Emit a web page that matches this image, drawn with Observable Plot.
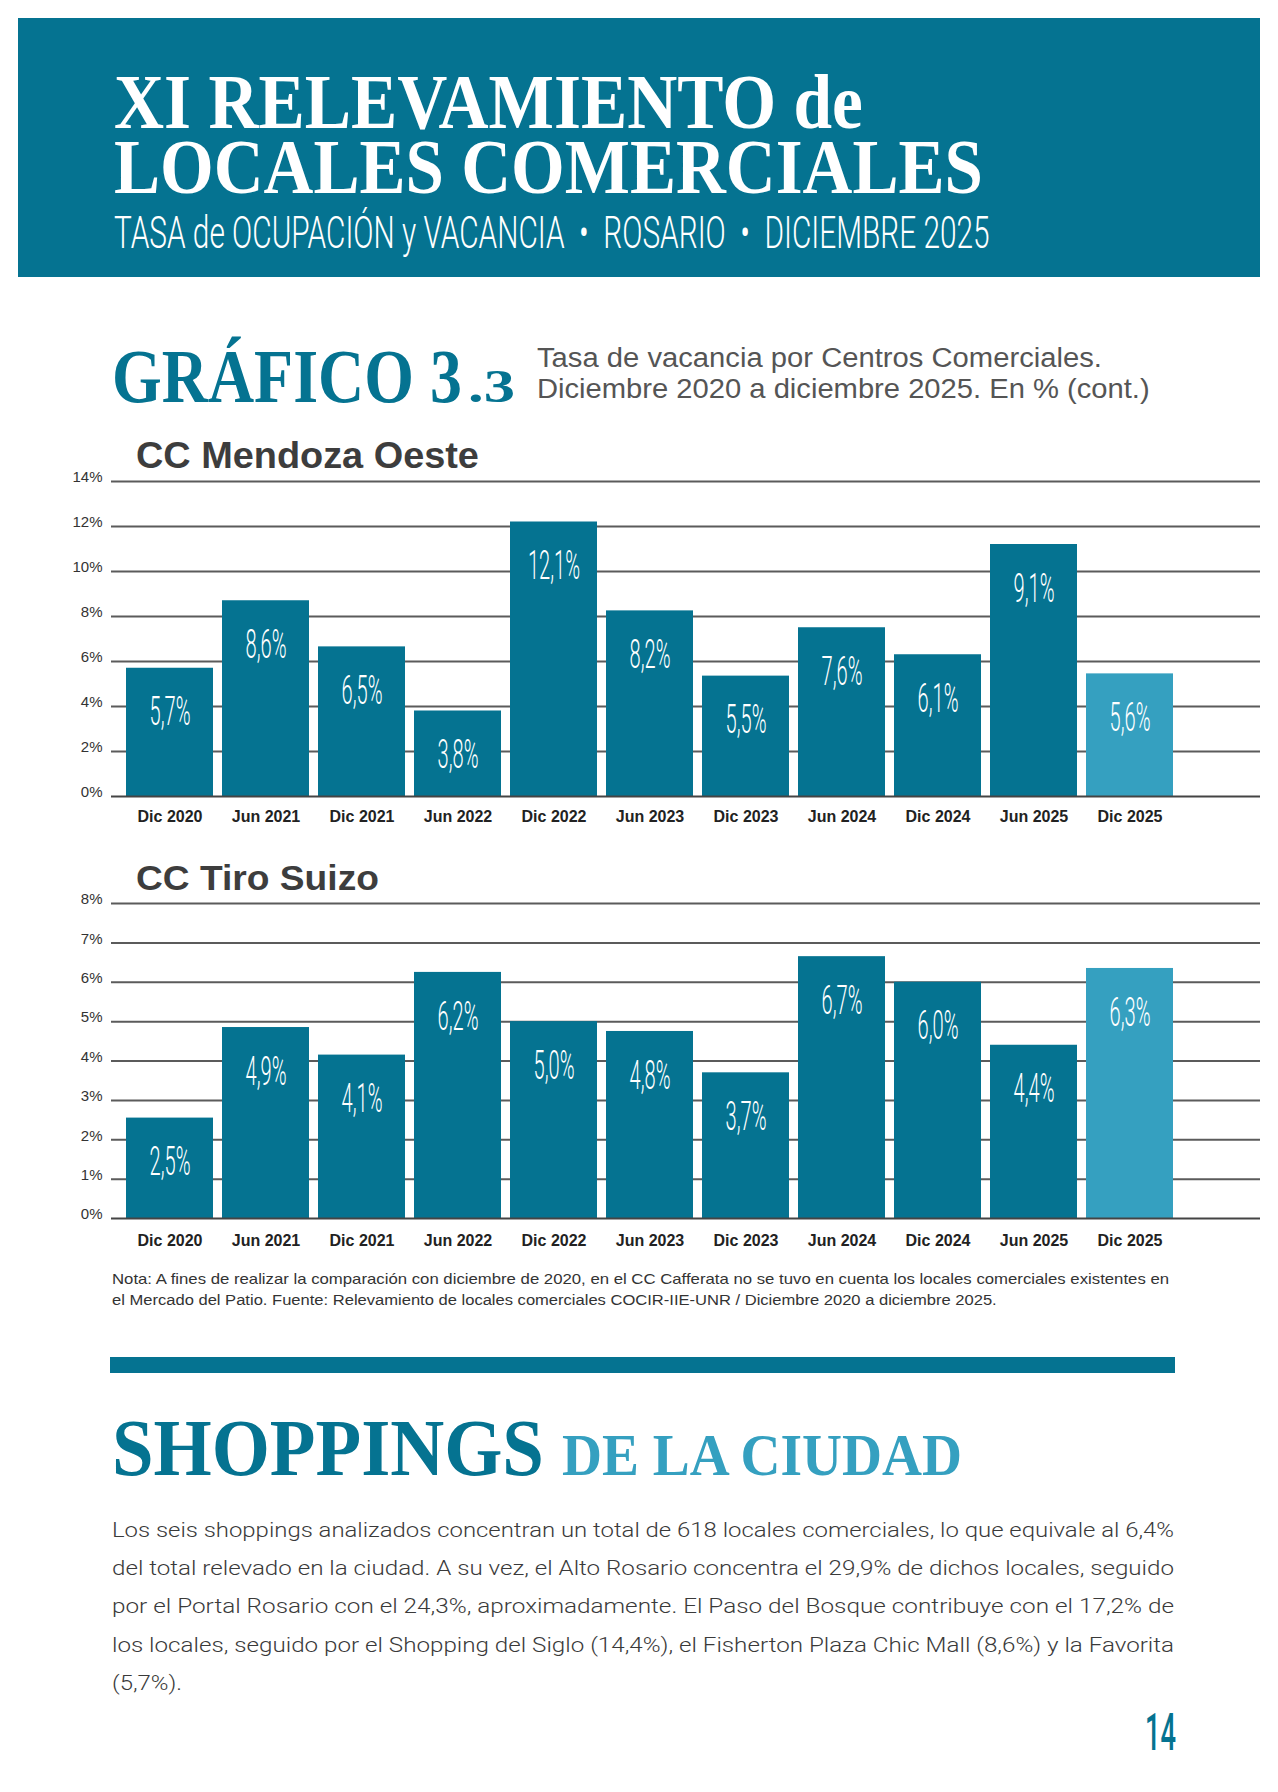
<!DOCTYPE html>
<html>
<head>
<meta charset="utf-8">
<script src="https://cdn.jsdelivr.net/npm/d3@7"></script>
<script src="https://cdn.jsdelivr.net/npm/@observablehq/plot@0.6"></script>
<style>
html, body { margin: 0; padding: 0; background: #fff; }
#page { position: relative; width: 1278px; height: 1792px; overflow: hidden; background: #fff; }
.chart { position: absolute; left: 0; width: 1278px; }
#overlay { position: absolute; left: 0; top: 0; z-index: 2; pointer-events: none; }
.serif { font-family: 'Liberation Serif', serif; font-weight: bold; }
.sans { font-family: 'Liberation Sans', Arial, sans-serif; }
.rob { font-family: Roboto, sans-serif; }
</style>
</head>
<body>
<div id="page">
  <div id="c1" class="chart" style="top:459px"></div>
  <div id="c2" class="chart" style="top:881px"></div>
  <svg id="overlay" width="1278" height="1792" viewBox="0 0 1278 1792" xmlns="http://www.w3.org/2000/svg">
    <rect x="18" y="18" width="1242" height="259" fill="#057391"/>
    <text id="title" class="serif" font-size="78" fill="#ffffff"><tspan x="0" y="128">XI RELEVAMIENTO de</tspan><tspan x="0" y="193">LOCALES COMERCIALES</tspan></text>
    <text class="rob" font-weight="300" font-size="45" fill="#ffffff" data-x="114" data-y="248" data-w="876" style="white-space:pre">TASA de OCUPACIÓN y VACANCIA  •  ROSARIO  •  DICIEMBRE 2025</text>

    <text class="serif" font-size="76" fill="#057391" data-x="112" data-y="402" data-w="350">GRÁFICO 3</text>
    <text class="serif" font-size="46" fill="#057391" data-x="468" data-y="402" data-w="47">.3</text>
    <text class="sans" font-size="28" fill="#555555" data-x="537" data-y="367" data-w="565">Tasa de vacancia por Centros Comerciales.</text>
    <text class="sans" font-size="28" fill="#555555" data-x="537" data-y="398" data-w="613">Diciembre 2020 a diciembre 2025. En % (cont.)</text>

    <text class="sans" font-weight="bold" font-size="36" fill="#3d3d3d" data-x="136" data-y="468" data-w="343">CC Mendoza Oeste</text>
    <text class="sans" font-weight="bold" font-size="36" fill="#3d3d3d" data-x="136" data-y="890" data-w="243">CC Tiro Suizo</text>

    <text class="sans" font-size="14.5" fill="#333333" data-x="112" data-y="1284" data-w="1058">Nota: A fines de realizar la comparación con diciembre de 2020, en el CC Cafferata no se tuvo en cuenta los locales comerciales existentes en</text>
    <text class="sans" font-size="14.5" fill="#333333" data-x="112" data-y="1305" data-w="886">el Mercado del Patio. Fuente: Relevamiento de locales comerciales COCIR-IIE-UNR / Diciembre 2020 a diciembre 2025.</text>

    <rect x="110" y="1357" width="1065" height="16" fill="#057391"/>

    <text class="serif" font-size="80" fill="#057391" data-x="112" data-y="1475" data-w="432">SHOPPINGS</text>
    <text class="serif" font-size="60" fill="#35a0c0" data-x="562" data-y="1475" data-w="400">DE LA CIUDAD</text>

    <g class="rob" font-weight="300" font-size="21" fill="#3a3a3a">
      <text x="112" y="1537" textLength="1062" lengthAdjust="spacingAndGlyphs">Los seis shoppings analizados concentran un total de 618 locales comerciales, lo que equivale al 6,4%</text>
      <text x="112" y="1575" textLength="1062" lengthAdjust="spacingAndGlyphs">del total relevado en la ciudad. A su vez, el Alto Rosario concentra el 29,9% de dichos locales, seguido</text>
      <text x="112" y="1613" textLength="1062" lengthAdjust="spacingAndGlyphs">por el Portal Rosario con el 24,3%, aproximadamente. El Paso del Bosque contribuye con el 17,2% de</text>
      <text x="112" y="1652" textLength="1062" lengthAdjust="spacingAndGlyphs">los locales, seguido por el Shopping del Siglo (14,4%), el Fisherton Plaza Chic Mall (8,6%) y la Favorita</text>
      <text x="112" y="1690" textLength="70" lengthAdjust="spacingAndGlyphs">(5,7%).</text>
    </g>

    <text class="rob" font-weight="500" font-size="52" fill="#057391" data-x="1145" data-y="1750" data-w="31">14</text>
  </svg>
</div>
<script>
// ---- Data ----
const periods = ["Dic 2020", "Jun 2021", "Dic 2021", "Jun 2022", "Dic 2022", "Jun 2023",
                 "Dic 2023", "Jun 2024", "Dic 2024", "Jun 2025", "Dic 2025"];

// CC Mendoza Oeste: bar heights as drawn, and the printed labels
const mendozaValues = [5.7, 8.7, 6.65, 3.8, 12.2, 8.25, 5.35, 7.5, 6.3, 11.2, 5.45];
const mendozaLabels = ["5,7%", "8,6%", "6,5%", "3,8%", "12,1%", "8,2%", "5,5%", "7,6%", "6,1%", "9,1%", "5,6%"];
const mendozaTicks = [0, 2, 4, 6, 8, 10, 12, 14];

// CC Tiro Suizo
const tiroValues = [2.55, 4.85, 4.15, 6.25, 5.0, 4.75, 3.7, 6.65, 6.0, 4.4, 6.35];
const tiroLabels = ["2,5%", "4,9%", "4,1%", "6,2%", "5,0%", "4,8%", "3,7%", "6,7%", "6,0%", "4,4%", "6,3%"];
const tiroTicks = [0, 1, 2, 3, 4, 5, 6, 7, 8];

const highlight = "Dic 2025";
const darkTeal = "#057391";
const lightTeal = "#35a0c0";

// Condense overlay texts horizontally to the widths of the reference's condensed faces
function fitOverlay() {
  document.querySelectorAll("#overlay text[data-w]").forEach(t => {
    t.removeAttribute("transform");
    const nat = t.getComputedTextLength();
    if (!nat) return;
    const sx = (+t.dataset.w) / nat;
    t.setAttribute("transform", `translate(${t.dataset.x},${t.dataset.y}) scale(${sx},1)`);
  });
  // two-line title: one element, common horizontal squeeze, second line sized to its width
  const t = document.getElementById("title");
  const [a, b] = t.querySelectorAll("tspan");
  t.removeAttribute("transform");
  b.setAttribute("font-size", 78);
  const n1 = a.getComputedTextLength(), n2 = b.getComputedTextLength();
  if (n1 && n2) {
    const sx = 749 / n1;
    b.setAttribute("font-size", 78 * (869 / n2) / sx);
    t.setAttribute("transform", `translate(114,0) scale(${sx},1)`);
  }
}
fitOverlay();
if (document.fonts && document.fonts.ready) document.fonts.ready.then(fitOverlay);

function condenseLabels(svg, factor) {
  svg.querySelectorAll('g[aria-label="text"] text').forEach(t => {
    const tr = t.getAttribute("transform");
    if (tr) {
      t.setAttribute("transform", tr + ` scale(${factor},1)`);
    } else {
      const x = t.getAttribute("x") || 0, y = t.getAttribute("y") || 0;
      t.removeAttribute("x"); t.removeAttribute("y");
      t.setAttribute("transform", `translate(${x},${y}) scale(${factor},1)`);
    }
  });
}

function barChart(values, labels, ticks, xPad) {
  const data = periods.map((p, i) => ({period: p, value: values[i], label: labels[i]}));
  const yMax = ticks[ticks.length - 1];
  const svg = Plot.plot({
    width: 1278,
    height: 382,
    marginLeft: 111,
    marginRight: 18,
    marginTop: 22,
    marginBottom: 45,
    style: {fontFamily: "'Liberation Sans', Arial, sans-serif", background: "transparent", overflow: "visible"},
    x: {domain: periods, paddingInner: 0.0984, paddingOuter: 0.5027, align: 0.144, axis: null},
    y: {domain: [0, yMax], axis: null},
    marks: [
      Plot.ruleY(ticks.filter(t => t > 0), {stroke: "#5b5b5b", strokeWidth: 2}),
      Plot.barY(data.filter(d => d.period !== highlight), {x: "period", y: "value", fill: darkTeal}),
      Plot.barY(data.filter(d => d.period === highlight), {x: "period", y: "value", fill: lightTeal}),
      Plot.ruleY([0], {stroke: "#444444", strokeWidth: 2}),
      Plot.text(data, {x: "period", y: "value", text: "label", lineAnchor: "top", dy: 28,
                       fill: "white", fontSize: 41, fontFamily: "Roboto, sans-serif", fontWeight: 300}),
      Plot.axisY({ticks: ticks, tickSize: 0, tickPadding: 9, tickFormat: d => d + "%",
                  fontSize: 15, color: "#333333", dy: -4, label: null}),
      Plot.axisX({tickSize: 0, tickPadding: xPad, fontSize: 16, fontWeight: "bold",
                  color: "#222222", label: null})
    ]
  });
  condenseLabels(svg, 0.49);
  return svg;
}

document.getElementById("c1").appendChild(barChart(mendozaValues, mendozaLabels, mendozaTicks, 14));
document.getElementById("c2").appendChild(barChart(tiroValues, tiroLabels, tiroTicks, 16));
</script>
</body>
</html>
